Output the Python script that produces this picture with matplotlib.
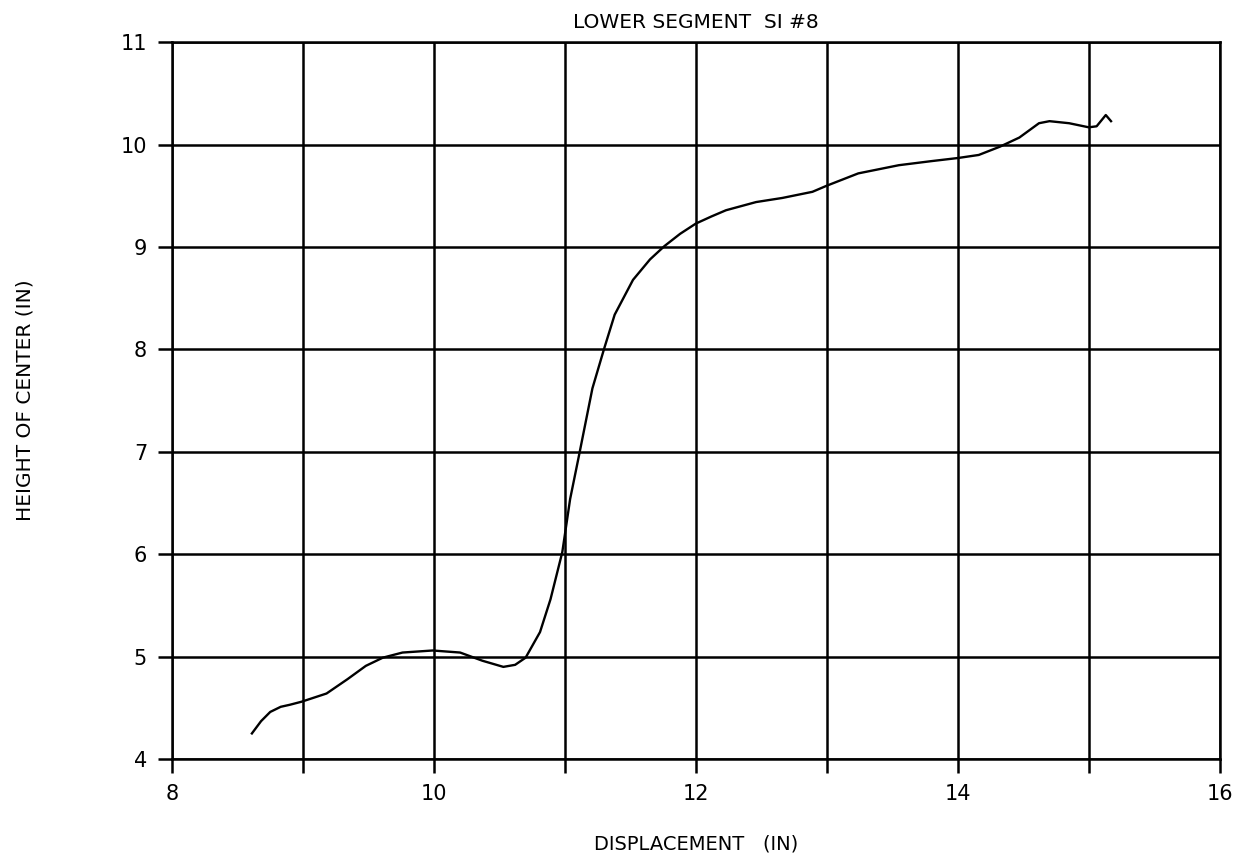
import numpy as np
import matplotlib
matplotlib.use("Agg")
import matplotlib.pyplot as plt

# curve: displacement (in) vs height of center (in)
disp = [8.61, 8.68, 8.75, 8.83, 8.90, 8.99, 9.18, 9.34, 9.48, 9.61, 9.76,
        9.99, 10.20, 10.37, 10.53, 10.62, 10.70, 10.81, 10.89, 10.98, 11.04,
        11.11, 11.21, 11.30, 11.38, 11.52, 11.65, 11.76, 11.88, 12.00, 12.12,
        12.23, 12.46, 12.66, 12.89, 13.00, 13.24, 13.55, 13.80, 14.00, 14.16,
        14.32, 14.47, 14.62, 14.70, 14.85, 15.00, 15.06, 15.13, 15.17]
height = [4.25, 4.37, 4.46, 4.51, 4.53, 4.56, 4.64, 4.78, 4.91, 4.99, 5.04,
          5.06, 5.04, 4.96, 4.90, 4.92, 4.99, 5.24, 5.56, 6.02, 6.54,
          6.98, 7.62, 8.01, 8.34, 8.68, 8.88, 9.01, 9.13, 9.23, 9.30,
          9.36, 9.44, 9.48, 9.54, 9.60, 9.72, 9.80, 9.84, 9.87, 9.90,
          9.98, 10.07, 10.21, 10.23, 10.21, 10.17, 10.18, 10.29, 10.23]

xticks = [8, 10, 12, 14, 16]
yticks = [4, 5, 6, 7, 8, 9, 10, 11]

fig = plt.figure(figsize=(12.51, 8.64), dpi=100)
ax = fig.add_axes([0.1375, 0.1215, 0.8375, 0.8295])

ax.plot(disp, height, color="black", lw=1.7)

ax.set_xlim(8, 16)
ax.set_ylim(4, 11)
ax.set_xticks(xticks)
ax.set_xticks(np.arange(8, 17, 1), minor=True)
ax.set_yticks(yticks)
ax.grid(True, which="both", color="black", lw=1.8)
ax.tick_params(which="both", direction="out", length=10, width=1.8,
               labelsize=15, pad=8)
for s in ax.spines.values():
    s.set_linewidth(1.8)

ax.set_title("LOWER SEGMENT  SI #8", fontsize=14.5, pad=10)
ax.set_xlabel("DISPLACEMENT   (IN)", fontsize=14, labelpad=22)
ax.set_ylabel("HEIGHT OF CENTER (IN)", fontsize=14.5, labelpad=62)

fig.savefig("out.png", dpi=100)
